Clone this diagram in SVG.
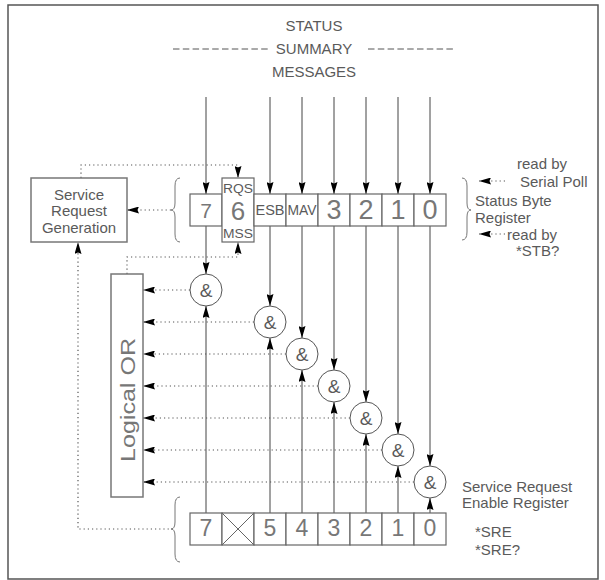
<svg xmlns="http://www.w3.org/2000/svg" width="605" height="580" viewBox="0 0 605 580">
<defs>
<marker id="ah" viewBox="0 0 12 7" refX="12" refY="3.5" markerWidth="12" markerHeight="7" markerUnits="userSpaceOnUse" orient="auto">
<path d="M0,0 L12,3.5 L0,7 L1.5,3.5 z" fill="#000"/>
</marker>
<style>
text{font-family:"Liberation Sans",Arial,sans-serif;fill:#5a5a5a;}
.t15{font-size:15px;}
.mid{text-anchor:middle;}
.big{fill:#777;}
.cell{fill:#fff;stroke:#666;stroke-width:1.2;}
.box{fill:#fff;stroke:#777;stroke-width:1.5;}
.solid{stroke:#444;stroke-width:1;fill:none;}
.dot{stroke:#555;stroke-width:1.2;stroke-dasharray:1.2 3;fill:none;}
.brace{stroke:#777;stroke-width:1;fill:none;}
.gate{fill:#fff;stroke:#555;stroke-width:1;}
</style>
</defs>
<rect x="8" y="5" width="590" height="574" fill="#fff" stroke="#555" stroke-width="1.5"/>

<g id="title">
<text class="t15 mid" x="314" y="31">STATUS</text>
<text class="t15 mid" x="314" y="54">SUMMARY</text>
<text class="t15 mid" x="314" y="77">MESSAGES</text>
<line x1="173" y1="49" x2="270" y2="49" stroke="#555" stroke-width="1" stroke-dasharray="6.5 3.3"/>
<line x1="368" y1="49" x2="455" y2="49" stroke="#555" stroke-width="1" stroke-dasharray="6.5 3.3"/>
</g>

<g id="connectors">
<g marker-end="url(#ah)" class="solid">
<line x1="206" y1="97" x2="206" y2="194"/>
<line x1="270" y1="97" x2="270" y2="194"/>
<line x1="302" y1="97" x2="302" y2="194"/>
<line x1="334" y1="97" x2="334" y2="194"/>
<line x1="366" y1="97" x2="366" y2="194"/>
<line x1="398" y1="97" x2="398" y2="194"/>
<line x1="430" y1="97" x2="430" y2="194"/>
<line x1="206" y1="226" x2="206" y2="274"/>
<line x1="270" y1="226" x2="270" y2="306"/>
<line x1="302" y1="226" x2="302" y2="338"/>
<line x1="334" y1="226" x2="334" y2="370"/>
<line x1="366" y1="226" x2="366" y2="402"/>
<line x1="398" y1="226" x2="398" y2="434"/>
<line x1="430" y1="226" x2="430" y2="466"/>
<line x1="206" y1="513" x2="206" y2="306"/>
<line x1="270" y1="513" x2="270" y2="338"/>
<line x1="302" y1="513" x2="302" y2="370"/>
<line x1="334" y1="513" x2="334" y2="402"/>
<line x1="366" y1="513" x2="366" y2="434"/>
<line x1="398" y1="513" x2="398" y2="466"/>
<line x1="430" y1="513" x2="430" y2="498"/>
</g>
<g marker-end="url(#ah)" class="dot">
<line x1="190" y1="290" x2="143" y2="290"/>
<line x1="254" y1="322" x2="143" y2="322"/>
<line x1="286" y1="354" x2="143" y2="354"/>
<line x1="318" y1="386" x2="143" y2="386"/>
<line x1="350" y1="418" x2="143" y2="418"/>
<line x1="382" y1="450" x2="143" y2="450"/>
<line x1="414" y1="482" x2="143" y2="482"/>
<path d="M81,178 V165 H238 V178"/>
<path d="M127,274 V257 H238 V242"/>
<path d="M173,529 H78 V242"/>
<line x1="171" y1="210" x2="127" y2="210"/>
<line x1="505" y1="181" x2="479" y2="181"/>
<line x1="505" y1="234" x2="479" y2="234"/>
</g>
</g>

<g id="srg">
<rect class="box" x="31" y="178" width="96" height="64"/>
<text class="t15 mid" x="79" y="200">Service</text>
<text class="t15 mid" x="79" y="216">Request</text>
<text class="t15 mid" x="79" y="233">Generation</text>
</g>

<g id="status-byte">
<rect class="cell" x="190" y="194" width="32" height="32"/>
<rect class="cell" x="222" y="178" width="32" height="64"/>
<rect class="cell" x="254" y="194" width="32" height="32"/>
<rect class="cell" x="286" y="194" width="32" height="32"/>
<rect class="cell" x="318" y="194" width="32" height="32"/>
<rect class="cell" x="350" y="194" width="32" height="32"/>
<rect class="cell" x="382" y="194" width="32" height="32"/>
<rect class="cell" x="414" y="194" width="32" height="32"/>
<text class="mid big" x="206" y="218" font-size="21">7</text>
<text class="mid" x="238" y="193" font-size="12" textLength="30" lengthAdjust="spacingAndGlyphs">RQS</text>
<text class="mid big" x="238" y="220" font-size="26">6</text>
<text class="mid" x="238" y="238" font-size="12" textLength="30" lengthAdjust="spacingAndGlyphs">MSS</text>
<text class="mid" x="270" y="215" font-size="14" textLength="29" lengthAdjust="spacingAndGlyphs">ESB</text>
<text class="mid" x="302" y="215" font-size="14" textLength="29" lengthAdjust="spacingAndGlyphs">MAV</text>
<text class="mid big" x="334" y="219" font-size="27">3</text>
<text class="mid big" x="366" y="219" font-size="27">2</text>
<text class="mid big" x="398" y="219" font-size="27">1</text>
<text class="mid big" x="430" y="219" font-size="27">0</text>
<path class="brace" d="M180,178 Q175,178 175,186 L175,203 Q175,210 171,210 Q175,210 175,217 L175,234 Q175,242 180,242"/>
<path class="brace" d="M462,178 Q467,178 467,186 L467,203 Q467,210 471,210 Q467,210 467,217 L467,232 Q467,240 462,240"/>
<text class="t15" x="517" y="169">read by</text>
<text class="t15" x="520" y="187">Serial Poll</text>
<text class="t15" x="475" y="206">Status Byte</text>
<text class="t15" x="475" y="223">Register</text>
<text class="t15" x="507" y="240">read by</text>
<text class="t15" x="516" y="256">*STB?</text>
</g>

<g id="logical-or">
<rect class="box" x="111" y="274" width="32" height="223"/>
<text class="mid big" transform="translate(135,400) rotate(-90)" font-size="21" textLength="124" lengthAdjust="spacingAndGlyphs">Logical OR</text>
</g>

<g id="and-gates">
<circle class="gate" cx="206" cy="290" r="16"/>
<circle class="gate" cx="270" cy="322" r="16"/>
<circle class="gate" cx="302" cy="354" r="16"/>
<circle class="gate" cx="334" cy="386" r="16"/>
<circle class="gate" cx="366" cy="418" r="16"/>
<circle class="gate" cx="398" cy="450" r="16"/>
<circle class="gate" cx="430" cy="482" r="16"/>
<g font-size="19" text-anchor="middle">
<text x="206" y="297">&amp;</text>
<text x="270" y="329">&amp;</text>
<text x="302" y="361">&amp;</text>
<text x="334" y="393">&amp;</text>
<text x="366" y="425">&amp;</text>
<text x="398" y="457">&amp;</text>
<text x="430" y="489">&amp;</text>
</g>
</g>

<g id="sre">
<rect class="cell" x="190" y="513" width="32" height="32"/>
<rect class="cell" x="222" y="513" width="32" height="32"/>
<rect class="cell" x="254" y="513" width="32" height="32"/>
<rect class="cell" x="286" y="513" width="32" height="32"/>
<rect class="cell" x="318" y="513" width="32" height="32"/>
<rect class="cell" x="350" y="513" width="32" height="32"/>
<rect class="cell" x="382" y="513" width="32" height="32"/>
<rect class="cell" x="414" y="513" width="32" height="32"/>
<path d="M222,513 L254,545 M254,513 L222,545" stroke="#666" stroke-width="1"/>
<g font-size="23" text-anchor="middle" class="big">
<text class="big" x="206" y="536">7</text>
<text class="big" x="270" y="536">5</text>
<text class="big" x="302" y="536">4</text>
<text class="big" x="334" y="536">3</text>
<text class="big" x="366" y="536">2</text>
<text class="big" x="398" y="536">1</text>
<text class="big" x="430" y="536">0</text>
</g>
<path class="brace" d="M180,497 Q175,497 175,505 L175,522 Q175,529 171,529 Q175,529 175,536 L175,554 Q175,562 180,562"/>
<text class="t15" x="462" y="492">Service Request</text>
<text class="t15" x="462" y="508">Enable Register</text>
<text class="t15" x="475" y="537">*SRE</text>
<text class="t15" x="475" y="555">*SRE?</text>
</g>
</svg>
